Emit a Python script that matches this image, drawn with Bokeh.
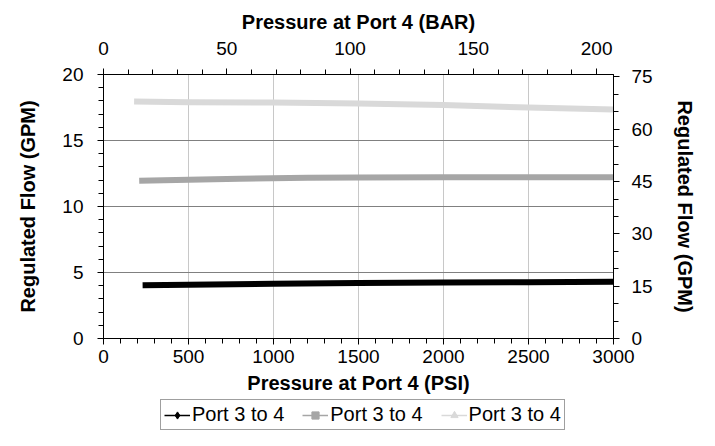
from bokeh.plotting import figure
from bokeh.layouts import column
from bokeh.models import Range1d, LinearAxis, Legend, LegendItem, FixedTicker
from bokeh.embed import file_html
from bokeh.resources import INLINE

# ---- data ----
psi_black = [230, 500, 1000, 1500, 2000, 2500, 3000]
gpm_black = [4.03, 4.08, 4.15, 4.20, 4.24, 4.27, 4.30]
psi_gray = [210, 500, 800, 1200, 1500, 2000, 2500, 3000]
gpm_gray = [11.95, 12.03, 12.10, 12.17, 12.20, 12.22, 12.22, 12.22]
psi_light = [180, 500, 1000, 1500, 2000, 2500, 3000]
gpm_light = [17.95, 17.90, 17.87, 17.80, 17.68, 17.50, 17.35]
series_labels = ["Port 3 to 4", "Port 3 to 4", "Port 3 to 4"]

psi_ticks = [0, 500, 1000, 1500, 2000, 2500, 3000]
psi_minor = list(range(0, 3001, 100))
gpm_ticks = [0, 5, 10, 15, 20]
gpm_minor = list(range(0, 21, 1))
bar_ticks = [0, 50, 100, 150, 200]
bar_minor = list(range(0, 201, 10))
lpm_ticks = [0, 15, 30, 45, 60, 75]
lpm_minor = list(range(0, 76, 5))

PSI_PER_BAR = 14.5038
LPM_PER_GPM = 3.78541
PSI_MAX = 3000
GPM_MAX = 20

FONT = "Liberation Sans"
FS = "19px"
TFS = "20px"

W = 699
H_MAIN = 398
H_LEG = 32

p = figure(width=W, height=H_MAIN, output_backend="svg", toolbar_location=None,
           x_range=Range1d(0, PSI_MAX), y_range=Range1d(0, GPM_MAX),
           min_border_left=103, min_border_right=86, min_border_top=74, min_border_bottom=60,
           x_axis_location=None, y_axis_location=None)
p.extra_x_ranges = {"bar": Range1d(0, PSI_MAX / PSI_PER_BAR)}
p.extra_y_ranges = {"lpm": Range1d(0, GPM_MAX * LPM_PER_GPM)}
p.outline_line_color = "black"
p.outline_line_width = 1
p.background_fill_color = "white"
p.border_fill_color = "white"


def style_axis(ax, ticks, minor, label):
    ax.ticker = FixedTicker(ticks=ticks, minor_ticks=minor)
    ax.axis_label = label
    ax.axis_label_text_font = FONT
    ax.axis_label_text_font_style = "bold"
    ax.axis_label_text_font_size = TFS
    ax.axis_label_text_color = "black"
    ax.major_label_text_font = FONT
    ax.major_label_text_font_size = FS
    ax.major_label_text_color = "black"
    ax.axis_line_color = "black"
    ax.major_tick_line_color = "black"
    ax.minor_tick_line_color = "black"
    ax.major_tick_in = 0
    ax.major_tick_out = 6
    ax.minor_tick_in = 0
    ax.minor_tick_out = 5


xb = LinearAxis()
style_axis(xb, psi_ticks, psi_minor, "Pressure at Port 4 (PSI)")
xb.major_label_standoff = 5
xb.axis_label_standoff = 6
p.add_layout(xb, "below")

xt = LinearAxis(x_range_name="bar")
style_axis(xt, bar_ticks, bar_minor, "Pressure at Port 4 (BAR)")
xt.major_label_standoff = 14
xt.axis_label_standoff = 6
p.add_layout(xt, "above")

yl = LinearAxis()
style_axis(yl, gpm_ticks, gpm_minor, "Regulated Flow (GPM)")
yl.major_label_standoff = 14
yl.axis_label_standoff = 20
p.add_layout(yl, "left")

yr = LinearAxis(y_range_name="lpm")
style_axis(yr, lpm_ticks, lpm_minor, "Regulated Flow (GPM)")
yr.major_label_standoff = 12
yr.axis_label_standoff = 18
p.add_layout(yr, "right")

p.xgrid.ticker = FixedTicker(ticks=psi_ticks[1:-1])
p.xgrid.grid_line_color = "#c8c8c8"
p.xgrid.grid_line_width = 1
p.ygrid.ticker = FixedTicker(ticks=gpm_ticks[1:-1])
p.ygrid.grid_line_color = "#808080"
p.ygrid.grid_line_width = 1

colors = ["#000000", "#a6a6a6", "#d9d9d9"]
markers = ["diamond", "square", "triangle"]
series = [(psi_black, gpm_black), (psi_gray, gpm_gray), (psi_light, gpm_light)]

# ---- legend strip (separate small figure under the chart) ----
lg = figure(width=W, height=H_LEG, output_backend="svg", toolbar_location=None,
            x_range=Range1d(0, 1), y_range=Range1d(0, 1),
            min_border=0, x_axis_location=None, y_axis_location=None)
lg.outline_line_color = None
lg.xgrid.visible = False
lg.ygrid.visible = False
lg.background_fill_color = "white"
lg.border_fill_color = "white"

items = []
for (xs, ys), c, m, lab in zip(series, colors, markers, series_labels):
    p.line(xs, ys, line_color=c, line_width=6, line_join="round")
    # legend-only glyphs (thin line + marker, as in the reference legend)
    lr = lg.line([float("nan")], [float("nan")], line_color=c, line_width=1.5)
    sr = lg.scatter([float("nan")], [float("nan")], marker=m, size=7,
                    fill_color=c, line_color=c)
    items.append(LegendItem(label=lab, renderers=[lr, sr]))

legend = Legend(items=items, orientation="horizontal", location=(57, 0))
legend.label_text_font = FONT
legend.label_text_font_size = TFS
legend.label_text_color = "black"
legend.label_standoff = 2
legend.glyph_width = 26
legend.glyph_height = 18
legend.label_height = 18
legend.spacing = 18
legend.padding = 3
legend.margin = 0
legend.border_line_color = "#404040"
legend.border_line_width = 1
legend.background_fill_color = "white"
legend.background_fill_alpha = 1
lg.add_layout(legend, "center")

layout = column(p, lg, spacing=0)
open("out.html", "w").write(file_html(layout, INLINE))
